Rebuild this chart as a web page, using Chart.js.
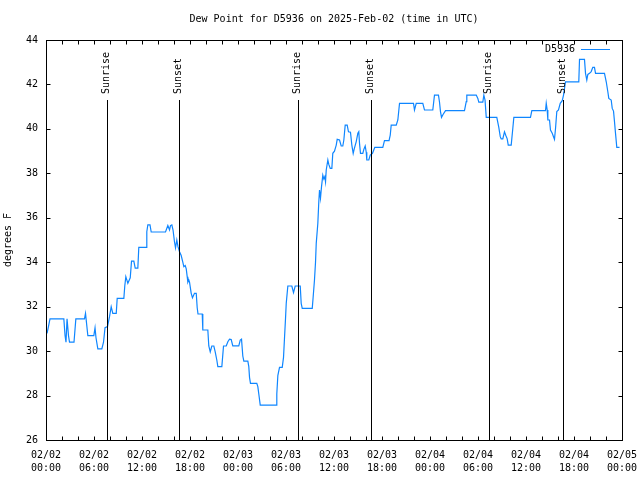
<!DOCTYPE html>
<html>
<head>
<meta charset="utf-8">
<script src="https://cdn.jsdelivr.net/npm/chart.js@4.4.1/dist/chart.umd.min.js"></script>
<style>
  html, body { margin: 0; padding: 0; background: #fff; }
  #wrap { width: 640px; height: 480px; }
</style>
</head>
<body>
<div id="wrap"><canvas id="dewChart" width="640" height="480"></canvas></div>
<script>
// hours since 2025-02-02 00:00 UTC
const hours = [
  0.13, 0.25, 0.5, 2.23, 2.38, 2.5, 2.63, 2.81, 2.94, 3.5, 3.73, 4.81, 4.94, 5.23, 5.98, 6.13, 6.25, 6.48, 6.98, 7.19,
  7.38, 7.69, 7.94, 8.15, 8.35, 8.78, 8.9, 9.73, 9.85, 9.98, 10.23, 10.53, 10.69, 10.98, 11.15, 11.48, 11.6, 12.53, 12.6, 12.73,
  13.0, 13.15, 14.94, 15.23, 15.44, 15.56, 15.73, 15.88, 16.06, 16.19, 16.35, 16.5, 16.69, 16.9, 17.1, 17.23, 17.4, 17.53, 17.65, 17.73,
  17.85, 17.94, 18.15, 18.31, 18.56, 18.78, 18.9, 19.0, 19.53, 19.6, 20.23, 20.35, 20.53, 20.73, 20.98, 21.15, 21.35, 21.48, 21.98, 22.19,
  22.53, 22.73, 22.94, 23.15, 23.35, 24.1, 24.28, 24.44, 24.6, 24.73, 25.23, 25.35, 25.44, 25.56, 26.35, 26.48, 26.6, 26.78, 28.78, 28.85,
  28.98, 29.19, 29.53, 29.69, 29.81, 29.94, 30.03, 30.23, 30.73, 30.94, 31.15, 31.78, 31.9, 32.03, 33.28, 33.38, 33.56, 33.69, 33.78, 33.98,
  34.1, 34.19, 34.31, 34.44, 34.6, 34.73, 34.85, 34.94, 35.03, 35.23, 35.35, 35.53, 35.73, 35.85, 36.06, 36.28, 36.4, 36.69, 36.9, 37.1,
  37.23, 37.4, 37.65, 37.81, 38.06, 38.23, 38.4, 38.53, 38.78, 38.98, 39.1, 39.19, 39.31, 39.6, 39.73, 39.9, 40.03, 40.1, 40.35, 40.53,
  40.81, 41.1, 42.1, 42.31, 42.88, 43.03, 43.15, 43.78, 43.98, 44.19, 45.94, 46.06, 46.28, 47.1, 47.31, 48.35, 48.56, 49.06, 49.19, 49.31,
  49.44, 49.63, 49.94, 52.31, 52.53, 52.6, 53.78, 53.98, 54.1, 54.6, 54.73, 54.88, 55.03, 56.35, 56.6, 56.78, 56.9, 57.1, 57.31, 57.48,
  57.65, 57.78, 58.15, 58.35, 58.48, 60.56, 60.73, 62.44, 62.53, 62.65, 62.73, 62.94, 63.06, 63.28, 63.44, 63.56, 63.69, 63.85, 64.06, 64.28,
  64.53, 64.69, 64.94, 66.6, 66.69, 67.31, 67.44, 67.6, 67.73, 67.94, 68.15, 68.35, 68.56, 68.69, 69.81, 70.03, 70.23, 70.35, 70.65, 70.78,
  70.94, 71.06, 71.19, 71.35, 71.69
];

// dew point, degrees F
const dewPoint = [
  30.8, 31.0, 31.45, 31.45, 30.7, 30.4, 31.45, 30.7, 30.4, 30.4, 31.45, 31.45, 31.7, 30.7, 30.7, 31.05, 30.6, 30.1, 30.1, 30.4,
  31.05, 31.1, 31.55, 32.0, 31.7, 31.7, 32.37, 32.37, 32.94, 33.35, 33.05, 33.3, 34.05, 34.05, 33.73, 33.73, 34.67, 34.67, 35.37, 35.68,
  35.68, 35.36, 35.36, 35.65, 35.45, 35.65, 35.68, 35.45, 34.92, 34.65, 35.0, 34.7, 34.47, 34.3, 34.0, 33.8, 33.85, 33.7, 33.35, 33.1,
  33.2, 33.1, 32.6, 32.4, 32.6, 32.6, 31.95, 31.67, 31.67, 30.95, 30.95, 30.23, 29.97, 30.23, 30.23, 29.97, 29.6, 29.3, 29.3, 30.23,
  30.23, 30.42, 30.54, 30.52, 30.24, 30.24, 30.5, 30.54, 29.78, 29.55, 29.55, 29.3, 28.82, 28.55, 28.55, 28.4, 28.07, 27.57, 27.57, 28.07,
  28.9, 29.27, 29.27, 29.72, 30.57, 31.47, 32.15, 32.93, 32.93, 32.63, 32.93, 32.93, 32.15, 31.92, 31.92, 32.37, 33.2, 34.0, 34.85, 35.75,
  36.72, 37.25, 36.88, 37.4, 37.92, 37.75, 37.85, 37.62, 38.15, 38.6, 38.4, 38.22, 38.22, 38.9, 39.0, 39.27, 39.53, 39.5, 39.23, 39.23,
  39.5, 40.17, 40.17, 39.87, 39.85, 39.27, 38.9, 39.1, 39.43, 39.8, 39.87, 39.35, 38.9, 38.9, 39.08, 39.23, 38.95, 38.6, 38.6, 38.82,
  38.9, 39.17, 39.17, 39.47, 39.47, 39.72, 40.17, 40.17, 40.4, 41.15, 41.15, 40.85, 41.15, 41.15, 40.85, 40.85, 41.52, 41.52, 41.2, 40.78,
  40.52, 40.65, 40.82, 40.82, 41.23, 41.52, 41.52, 41.37, 41.2, 41.2, 41.52, 41.3, 40.52, 40.52, 40.07, 39.65, 39.55, 39.55, 39.87, 39.7,
  39.55, 39.27, 39.27, 40.02, 40.52, 40.52, 40.82, 40.82, 41.15, 40.85, 40.4, 40.4, 39.95, 39.8, 39.65, 39.53, 40.02, 40.78, 40.85, 41.15,
  41.27, 41.52, 42.12, 42.12, 43.13, 43.13, 42.5, 42.2, 42.45, 42.5, 42.58, 42.77, 42.77, 42.5, 42.5, 42.12, 41.67, 41.37, 41.3, 40.92,
  40.8, 40.33, 39.8, 39.17, 39.17
];

const dateTicks = ['02/02', '02/02', '02/02', '02/02', '02/03', '02/03', '02/03', '02/03', '02/04', '02/04', '02/04', '02/04', '02/05'];
const timeTicks = ['00:00', '06:00', '12:00', '18:00', '00:00', '06:00', '12:00', '18:00', '00:00', '06:00', '12:00', '18:00', '00:00'];

const sunEvents = ['Sunrise', 'Sunset', 'Sunrise', 'Sunset', 'Sunrise', 'Sunset'];
const sunHours = [7.6, 16.6, 31.5, 40.65, 55.35, 64.6];

const FONT = 'DejaVu Sans Mono';
const lineColor = '#0f86ff';

// gnuplot-ish frame: inward ticks, full border, title, legend and sun markers
const framePlugin = {
    id: 'frame',
    afterDraw(chart) {
        const ctx = chart.ctx;
        const a = chart.chartArea;
        const xs = chart.scales.x, ys = chart.scales.y;
        const L = Math.round(a.left) + 0.5, R = Math.round(a.right) + 0.5;
        const T = Math.round(a.top) + 0.5, B = Math.round(a.bottom) + 0.5;
        ctx.save();
        ctx.strokeStyle = '#000';
        ctx.lineWidth = 1;
        ctx.strokeRect(L, T, R - L, B - T);

        ctx.beginPath();
        xs.ticks.forEach(t => {
            const px = Math.round(xs.getPixelForValue(t.value)) + 0.5;
            ctx.moveTo(px, B); ctx.lineTo(px, B - 4);
            ctx.moveTo(px, T); ctx.lineTo(px, T + 4);
        });
        ys.ticks.forEach(t => {
            const py = Math.round(ys.getPixelForValue(t.value)) + 0.5;
            ctx.moveTo(L, py); ctx.lineTo(L + 4, py);
            ctx.moveTo(R, py); ctx.lineTo(R - 4, py);
        });
        ctx.stroke();

        // sunrise / sunset lines
        ctx.font = '10px "' + FONT + '"';
        ctx.fillStyle = '#000';
        sunHours.forEach((h, i) => {
            const px = Math.round(xs.getPixelForValue(h)) + 0.5;
            ctx.beginPath();
            ctx.moveTo(px, 100); ctx.lineTo(px, B);
            ctx.stroke();
            ctx.save();
            ctx.translate(px - 1, 94);
            ctx.rotate(-Math.PI / 2);
            ctx.textAlign = 'left';
            ctx.textBaseline = 'middle';
            ctx.fillText(sunEvents[i], 0, 0);
            ctx.restore();
        });

        // legend
        const ds = chart.data.datasets[0];
        ctx.textAlign = 'right';
        ctx.textBaseline = 'middle';
        ctx.fillText(ds.label, 575, 49);
        ctx.strokeStyle = ds.borderColor;
        ctx.beginPath();
        ctx.moveTo(581, 49.5); ctx.lineTo(610, 49.5);
        ctx.stroke();

        // title
        ctx.fillStyle = '#000';
        ctx.textAlign = 'center';
        ctx.fillText('Dew Point for D5936 on 2025-Feb-02 (time in UTC)', (a.left + a.right) / 2, 19);
        ctx.restore();
    }
};

new Chart(document.getElementById('dewChart'), {
    type: 'line',
    data: {
        datasets: [{
            label: 'D5936',
            data: hours.map((h, i) => ({ x: h, y: dewPoint[i] })),
            borderColor: lineColor,
            borderWidth: 1.2,
            pointRadius: 0,
            tension: 0,
            fill: false
        }]
    },
    options: {
        responsive: false,
        animation: false,
        devicePixelRatio: 1,
        layout: { padding: { top: 40, right: 18, bottom: 0, left: 0 } },
        plugins: {
            legend: { display: false },
            title: { display: false },
            tooltip: { enabled: false }
        },
        scales: {
            x: {
                type: 'linear',
                min: 0,
                max: 72,
                afterFit(scale) {
                    scale.height = 40;
                    scale.paddingLeft = 0;
                    scale.paddingRight = 0;
                },
                ticks: {
                    stepSize: 2,
                    autoSkip: false,
                    maxRotation: 0,
                    padding: 9,
                    color: '#000',
                    font: { family: FONT, size: 10, lineHeight: 1.3 },
                    callback: v => (v % 6 === 0 ? [dateTicks[v / 6], timeTicks[v / 6]] : '')
                },
                grid: { display: false, drawTicks: false },
                border: { display: false }
            },
            y: {
                min: 26,
                max: 44,
                afterFit(scale) {
                    scale.width = 46;
                    scale.paddingTop = 0;
                    scale.paddingBottom = 0;
                },
                ticks: {
                    stepSize: 2,
                    padding: 8,
                    color: '#000',
                    font: { family: FONT, size: 10 }
                },
                grid: { display: false, drawTicks: false },
                border: { display: false },
                title: {
                    display: true,
                    text: 'degrees F',
                    color: '#000',
                    font: { family: FONT, size: 10 },
                    padding: { top: 2, bottom: 0 }
                }
            }
        }
    },
    plugins: [framePlugin]
});
</script>
</body>
</html>
